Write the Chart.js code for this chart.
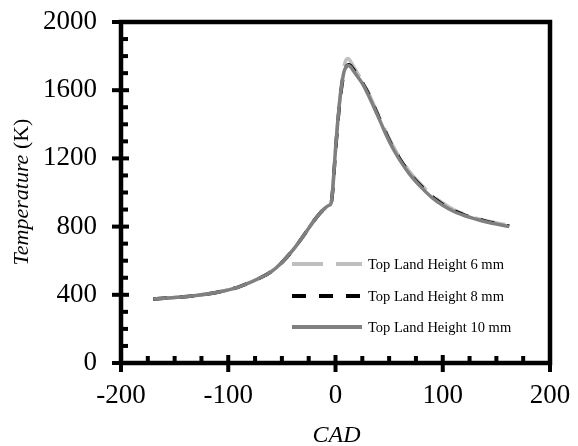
<!DOCTYPE html>
<html>
<head>
<meta charset="utf-8">
<script src="https://cdn.jsdelivr.net/npm/chart.js@4"></script>
<style>
html, body { margin:0; padding:0; background:#fff; }
#wrap { width:578px; height:446px; }
</style>
</head>
<body>
<div id="wrap"><canvas id="tempChart" width="578" height="446"></canvas></div>
<script>
// crank angle (deg) and gas temperature (K)
const cad      = [-170,-150,-130,-110,-90,-70,-60,-50,-40,-30,-20,-15,-10,-6,-4,0,2,4,6,8,10,12,14,16,20,25,30,35,40,45,50,55,60,70,80,90,100,110,120,130,140,150,162];
const temp6mm  = [376,384,396,415,447,500,535,590,660,745,835,875,907,925,940,1250,1410,1545,1655,1740,1780,1786,1770,1748,1705,1655,1595,1525,1455,1385,1318,1258,1205,1115,1045,985,938,900,873,852,835,822,808];
const temp8mm  = [376,384,396,415,447,500,535,590,660,745,835,875,907,925,940,1240,1400,1530,1630,1705,1738,1750,1745,1728,1692,1646,1588,1518,1448,1378,1308,1248,1197,1107,1037,977,930,895,869,849,832,818,803];
const temp10mm = [376,384,396,415,447,500,535,590,660,745,835,875,907,925,940,1250,1410,1540,1640,1710,1738,1745,1738,1720,1685,1640,1580,1512,1442,1370,1302,1242,1190,1100,1030,970,925,890,865,845,828,815,800];
const seriesLabels = ['Top Land Height 6 mm', 'Top Land Height 8 mm', 'Top Land Height 10 mm'];
const xTicks = [-200,-100,0,100,200];
const yTicks = [0,400,800,1200,1600,2000];

const serif = '"Liberation Serif", "Times New Roman", serif';

function toPoints(ys){
    return cad.map((x, i) => ({x: x, y: ys[i]}));
}

// no extra room for overhanging tick labels, the box is placed by hand
function fixedBox(s, size){
    if (s.isHorizontal()) s.height = size; else s.width = size;
    s.paddingTop = s.paddingBottom = s.paddingLeft = s.paddingRight = 0;
}

// excel style box with tick marks (major cross the line, minor point inwards)
const framePlugin = {
    id: 'frame',
    afterDatasetsDraw(chart){
        const {ctx, chartArea: a, scales: {x, y}} = chart;
        ctx.save();
        ctx.strokeStyle = '#000';
        ctx.lineWidth = 4.5;
        ctx.strokeRect(a.left, a.top, a.right - a.left, a.bottom - a.top);
        ctx.fillStyle = '#000';
        for (let v = y.min; v <= y.max; v += 100){
            const py = y.getPixelForValue(v);
            if (v % 400 === 0) ctx.fillRect(a.left - 9, py - 2, 17, 4);
            else ctx.fillRect(a.left, py - 2, 7, 4);
        }
        for (let v = x.min; v <= x.max; v += 25){
            const px = x.getPixelForValue(v);
            if (v % 100 === 0) ctx.fillRect(px - 2, a.bottom - 8, 4, 17);
            else ctx.fillRect(px - 2, a.bottom - 7, 4, 7);
        }
        ctx.restore();
    }
};

// legend inside the plot + axis titles (y title mixes italic and upright)
const textPlugin = {
    id: 'texts',
    afterDraw(chart){
        const {ctx, chartArea: a} = chart;
        ctx.save();
        // legend
        const lx = a.left + 171;
        const rows = [264, 296, 327];
        chart.data.datasets.forEach((ds, i) => {
            ctx.strokeStyle = ds.borderColor;
            ctx.lineWidth = ds.borderWidth + 0.5;
            ctx.setLineDash(ds.borderDash || []);
            ctx.beginPath();
            ctx.moveTo(lx, rows[i]);
            ctx.lineTo(lx + 70, rows[i]);
            ctx.stroke();
            ctx.setLineDash([]);
            ctx.fillStyle = '#000';
            ctx.font = '14.5px ' + serif;
            ctx.textBaseline = 'middle';
            ctx.textAlign = 'left';
            ctx.fillText(ds.label, lx + 76, rows[i] + 1);
        });

        // x title
        ctx.fillStyle = '#000';
        ctx.font = 'italic 24px ' + serif;
        ctx.textAlign = 'center';
        ctx.textBaseline = 'alphabetic';
        ctx.fillText('CAD', (a.left + a.right) / 2 + 1, 442);

        // y title
        const part1 = 'Temperature', part2 = ' (K)';
        ctx.font = 'italic 22px ' + serif;
        const w1 = ctx.measureText(part1).width;
        ctx.font = '22px ' + serif;
        const w2 = ctx.measureText(part2).width;
        ctx.translate(28, 192);
        ctx.rotate(-Math.PI / 2);
        ctx.textAlign = 'left';
        let start = -(w1 + w2) / 2;
        ctx.font = 'italic 22px ' + serif;
        ctx.fillText(part1, start, 0);
        ctx.font = '22px ' + serif;
        ctx.fillText(part2, start + w1, 0);
        ctx.restore();
    }
};

const tickFont = {family: serif, size: 27};
const plainNumber = v => String(v);

new Chart(document.getElementById('tempChart'), {
    type: 'line',
    data: {
        datasets: [
            {label: seriesLabels[0], data: toPoints(temp6mm),  borderColor: '#bfbfbf', borderDash: [31, 13], borderWidth: 3.5, order: 3},
            {label: seriesLabels[1], data: toPoints(temp8mm),  borderColor: '#000000', borderDash: [14, 13], borderWidth: 3.5, order: 2},
            {label: seriesLabels[2], data: toPoints(temp10mm), borderColor: '#808080', borderWidth: 3.5, order: 1}
        ]
    },
    options: {
        responsive: false,
        animation: false,
        layout: {padding: {top: 22, right: 28, left: 0, bottom: 0}},
        elements: {
            point: {radius: 0},
            line: {cubicInterpolationMode: 'monotone', fill: false}
        },
        plugins: {
            legend: {display: false},
            tooltip: {enabled: false}
        },
        scales: {
            x: {
                type: 'linear',
                min: -200, max: 200,
                afterBuildTicks: s => { s.ticks = xTicks.map(v => ({value: v})); },
                afterFit: s => fixedBox(s, 83),
                ticks: {font: tickFont, color: '#000', padding: 17, autoSkip: false, maxRotation: 0, callback: plainNumber},
                grid: {display: false, drawTicks: false},
                border: {display: false}
            },
            y: {
                type: 'linear',
                min: 0, max: 2000,
                afterBuildTicks: s => { s.ticks = yTicks.map(v => ({value: v})); },
                afterFit: s => fixedBox(s, 121),
                ticks: {font: tickFont, color: '#000', padding: 24, autoSkip: false, callback: plainNumber},
                grid: {display: false, drawTicks: false},
                border: {display: false}
            }
        }
    },
    plugins: [framePlugin, textPlugin]
});
</script>
</body>
</html>
